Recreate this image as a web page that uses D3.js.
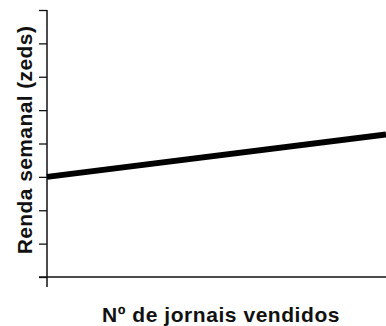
<html>
<head>
<meta charset="utf-8">
<script src="https://d3js.org/d3.v7.min.js" charset="utf-8"></script>
<style>
  body { margin: 0; background: #fff; }
  .lbl { font-family: "Liberation Sans", Arial, sans-serif; font-weight: bold; fill: #111; }
</style>
</head>
<body>
<div id="viz"></div>
<script>
// data: income line at the start and end of the visible range
const xValues = [0, 10];
const incomeValues = [3.0, 4.27];
const yTicks = [0, 1, 2, 3, 4, 5, 6, 7, 8];
const xTitle = "Nº de jornais vendidos";
const yTitle = "Renda semanal (zeds)";

const width = 386, height = 326;
const margin = { top: 10, right: 0, bottom: 49, left: 47 };

const svg = d3.select("#viz").append("svg").attr("width", width).attr("height", height);

const x = d3.scaleLinear().domain([0, 10]).range([margin.left, width - margin.right]);
const y = d3.scaleLinear().domain([0, 8]).range([height - margin.bottom, margin.top]);

// y axis with left ticks, extended a little below the x axis
const yAxis = svg.append("g")
    .attr("transform", `translate(${margin.left},0)`)
    .call(d3.axisLeft(y).tickValues(yTicks).tickSize(8).tickFormat(""));
yAxis.select(".domain").remove();
yAxis.selectAll("line").attr("stroke", "#111").attr("stroke-width", 1.3);
svg.append("line")
    .attr("x1", margin.left).attr("x2", margin.left)
    .attr("y1", y(8)).attr("y2", y(0) + 10)
    .attr("stroke", "#111").attr("stroke-width", 1.5);

// x axis line, extended a little left of the y axis
svg.append("line")
    .attr("x1", margin.left - 8).attr("x2", width)
    .attr("y1", y(0)).attr("y2", y(0))
    .attr("stroke", "#111").attr("stroke-width", 1.5);

// income line
const line = d3.line().x((d, i) => x(xValues[i])).y(d => y(d));
svg.append("path")
    .datum(incomeValues)
    .attr("d", line)
    .attr("fill", "none")
    .attr("stroke", "#000")
    .attr("stroke-width", 6);

// titles
svg.append("text").attr("class", "lbl")
    .attr("x", 221).attr("y", 322)
    .attr("text-anchor", "middle")
    .style("font-size", "21px")
    .style("letter-spacing", "0.55px")
    .text(xTitle);

svg.append("text").attr("class", "lbl")
    .attr("transform", "translate(32,140) rotate(-90)")
    .attr("text-anchor", "middle")
    .style("font-size", "21px")
    .style("letter-spacing", "0.4px")
    .text(yTitle);
</script>
</body>
</html>
